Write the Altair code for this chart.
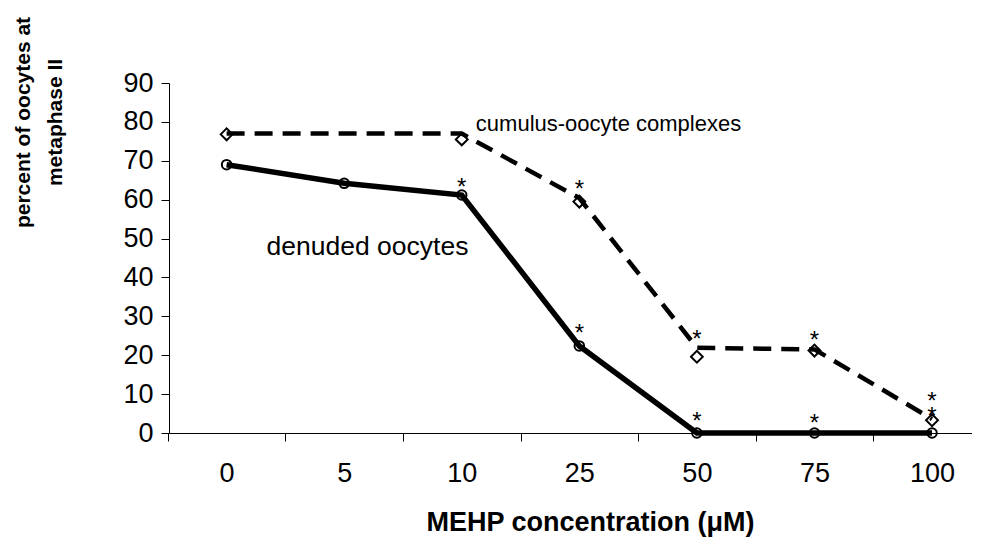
import altair as alt
import pandas as pd

categories = ["0", "5", "10", "25", "50", "75", "100"]
denuded = [69.0, 64.2, 61.2, 22.4, 0.0, 0.0, 0.0]
coc_markers = [76.8, None, 75.5, 59.5, 19.6, 21.2, 3.3]
coc_line = [77.0, None, 77.0, 60.4, 21.9, 21.5, 3.6]

star_categories = ["10", "25", "25", "50", "50", "75", "75", "100", "100"]
star_values = [64.7, 64.4, 27.3, 25.7, 4.6, 25.5, 4.2, 9.8, 5.9]

coc_label = "cumulus-oocyte complexes"
coc_label_pos = [2.12, 79.5]
den_label = "denuded oocytes"
den_label_pos = [0.34, 47.8]

FONT = "Liberation Sans"
idx = list(range(len(categories)))


def frame(vals):
    rows = [{"i": i, "v": v} for i, v in zip(idx, vals) if v is not None]
    return pd.DataFrame(rows)


df_d = frame(denuded)
df_cm = frame(coc_markers)
df_cl = frame(coc_line)
df_s = pd.DataFrame({"i": [categories.index(c) for c in star_categories], "v": star_values})
df_lc = pd.DataFrame({"i": [coc_label_pos[0]], "v": [coc_label_pos[1]], "t": [coc_label]})
df_ld = pd.DataFrame({"i": [den_label_pos[0]], "v": [den_label_pos[1]], "t": [den_label]})

step = 803 / (6.34 + 0.49)
label_array = "[" + ",".join("'" + c + "'" for c in categories) + "]"

x_enc = alt.X(
    "i:Q",
    scale=alt.Scale(domain=[-0.49, 6.34], nice=False, zero=False),
    axis=alt.Axis(
        values=idx,
        tickOffset=-step / 2,
        labelOffset=step / 2,
        labelExpr=label_array + "[datum.value]",
        labelFlush=False,
        labelOverlap=False,
        grid=False,
        tickSize=8,
        labelPadding=19,
        labelFontSize=27,
        title="MEHP concentration (\u03bcM)",
        titleFontSize=27,
        titleFontWeight="bold",
        titleX=421,
        titleY=89,
        titleAlign="center",
        titleBaseline="middle",
    ),
)
y_enc = alt.Y(
    "v:Q",
    scale=alt.Scale(domain=[0, 90], nice=False),
    axis=alt.Axis(
        values=list(range(0, 91, 10)),
        grid=False,
        tickSize=8,
        labelPadding=8,
        labelFontSize=27,
        title=["percent of oocytes at", "metaphase II"],
        titleFontSize=21,
        titleFontWeight="bold",
        titleAngle=-90,
        titleX=-146,
        titleY=39,
        titleAlign="center",
        titleBaseline="middle",
        titleLineHeight=32,
    ),
)

line_d = alt.Chart(df_d).mark_line(color="black", strokeWidth=5.5).encode(x=x_enc, y=y_enc)
pts_d = alt.Chart(df_d).mark_point(
    shape="circle", filled=False, color="black", size=90, strokeWidth=2, opacity=1
).encode(x=x_enc, y=y_enc)
line_c = alt.Chart(df_cl).mark_line(color="black", strokeWidth=4.5, strokeDash=[18, 10]).encode(x=x_enc, y=y_enc)
pts_c = alt.Chart(df_cm).mark_point(
    shape="diamond", filled=False, color="black", size=140, strokeWidth=2, opacity=1
).encode(x=x_enc, y=y_enc)
stars = alt.Chart(df_s).mark_text(
    text="*", font=FONT, fontSize=24, baseline="middle", align="center", dy=7, color="black"
).encode(x=x_enc, y=y_enc)
label_c = alt.Chart(df_lc).mark_text(
    font=FONT, fontSize=22, baseline="middle", align="left", color="black"
).encode(x=x_enc, y=y_enc, text="t:N")
label_d = alt.Chart(df_ld).mark_text(
    font=FONT, fontSize=26.5, baseline="middle", align="left", color="black"
).encode(x=x_enc, y=y_enc, text="t:N")

chart = (
    alt.layer(line_c, line_d, pts_c, pts_d, stars, label_c, label_d)
    .properties(
        width=803,
        height=350,
        autosize=alt.AutoSizeParams(type="none"),
        padding={"left": 161, "top": 75, "right": 0, "bottom": 104},
        background="white",
    )
    .configure_view(stroke=None)
    .configure_axis(
        domainColor="black",
        tickColor="black",
        labelColor="black",
        titleColor="black",
        labelFont=FONT,
        titleFont=FONT,
        domainWidth=1,
        tickWidth=1,
    )
)

chart.save("out.html", embed_options={"renderer": "svg", "actions": False})
